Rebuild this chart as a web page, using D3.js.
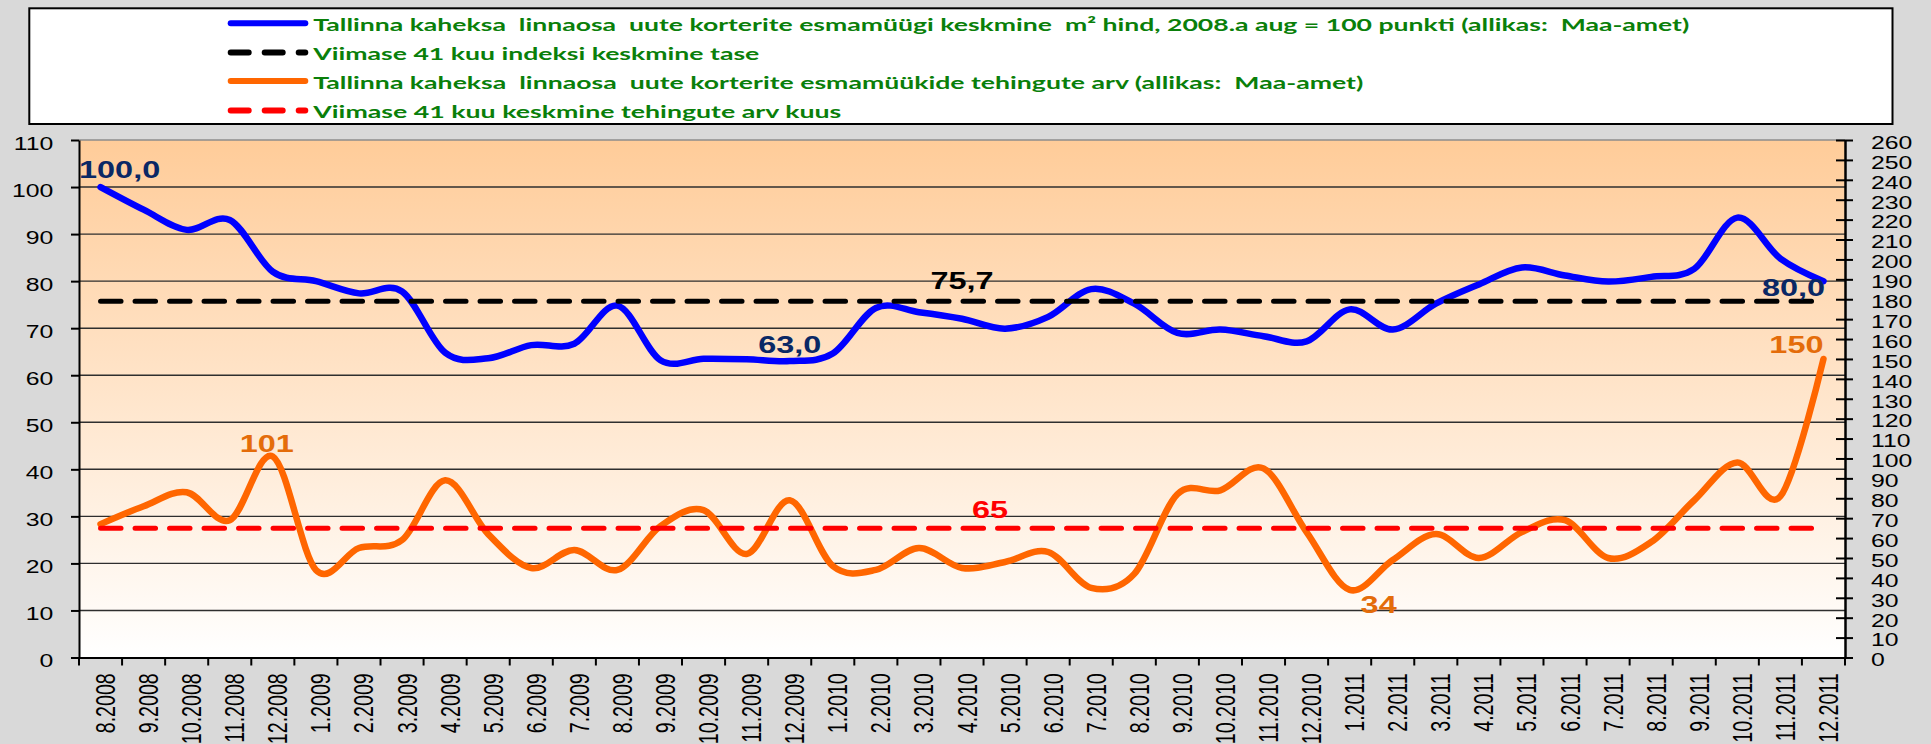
<!DOCTYPE html>
<html>
<head>
<meta charset="utf-8">
<script src="https://d3js.org/d3.v7.min.js"></script>
<style>
  body { margin: 0; background: #d9d9d9; overflow: hidden; }
</style>
</head>
<body>
<div id="chart"></div>
<script>

/* DATA ********************************************************************************/

var months = [
    "8.2008", "9.2008", "10.2008", "11.2008", "12.2008",
    "1.2009", "2.2009", "3.2009", "4.2009", "5.2009", "6.2009", "7.2009", "8.2009", "9.2009", "10.2009", "11.2009", "12.2009",
    "1.2010", "2.2010", "3.2010", "4.2010", "5.2010", "6.2010", "7.2010", "8.2010", "9.2010", "10.2010", "11.2010", "12.2010",
    "1.2011", "2.2011", "3.2011", "4.2011", "5.2011", "6.2011", "7.2011", "8.2011", "9.2011", "10.2011", "11.2011", "12.2011"
];

// m2 price index, 2008 aug = 100 (left axis)
var priceIndex = [
    100.0, 95.2, 90.9, 93.0, 82.0,
    80.0, 77.4, 77.8, 64.8, 63.6, 66.4, 66.7, 74.8, 63.2, 63.5, 63.4, 63.0,
    64.6, 74.3, 73.4, 72.0, 69.9, 72.4, 78.3, 75.2, 69.0, 69.7, 68.3, 67.2,
    74.0, 69.7, 75.2, 79.3, 82.9, 81.2, 79.9, 80.9, 82.6, 93.5, 84.8, 80.0
];

// number of deals (right axis)
var dealCount = [
    67, 76, 83, 69, 101,
    44, 55, 59, 89, 62, 45, 54, 44, 66, 74, 52, 79,
    46, 44, 55, 45, 48, 53, 35, 42, 82, 84, 95, 63,
    34, 49, 62, 50, 63, 69, 50, 58, 79, 98, 81, 150
];

var indexAverage = 75.7;
var dealAverage = 65;

var leftTicks = [0, 10, 20, 30, 40, 50, 60, 70, 80, 90, 100, 110];
var rightTicks = [0, 10, 20, 30, 40, 50, 60, 70, 80, 90, 100, 110, 120, 130, 140, 150, 160, 170, 180, 190, 200, 210, 220, 230, 240, 250, 260];

var legendNames = [
    "Tallinna kaheksa  linnaosa  uute korterite esmamüügi keskmine  m² hind, 2008.a aug = 100 punkti (allikas:  Maa-amet)",
    "Viimase 41 kuu indeksi keskmine tase",
    "Tallinna kaheksa  linnaosa  uute korterite esmamüükide tehingute arv (allikas:  Maa-amet)",
    "Viimase 41 kuu keskmine tehingute arv kuus"
];

var drawChart = function(){

    /* SETTINGS ****************************************************************************/

    const width = 1931;
    const height = 744;
    const plotLeft = 79, plotRight = 1845, plotTop = 140, plotBottom = 657.5;

    var bgColor = '#d9d9d9';
    var axisFont = '"Liberation Sans", Arial, sans-serif';
    var blue = '#0000ff', orange = '#ff6600', navy = '#0a2865', labelOrange = '#e46c0a';
    var dash = "20.5,14";

    // the original picture is stretched sideways, so text gets a horizontal scale
    function stretch(sel, sx) {
        sel.each(function(){
            var t = d3.select(this);
            var x = +t.attr("x") || 0, y = +t.attr("y") || 0;
            t.attr("x", 0).attr("y", 0)
                .attr("transform", "translate(" + x + "," + y + ") scale(" + sx + ",1)");
        });
    }

    /* SVG *********************************************************************************/

    var svg = d3.select('#chart')
        .append('svg')
        .attr("width", width)
        .attr("height", height)
        .style('background-color', bgColor)
        .style('display', 'block');

    var grad = svg.append("defs").append("linearGradient")
        .attr("id", "plotBg")
        .attr("x1", 0).attr("y1", 0).attr("x2", 0).attr("y2", 1);
    grad.append("stop").attr("offset", "0%").attr("stop-color", "#ffcc99");
    grad.append("stop").attr("offset", "100%").attr("stop-color", "#ffffff");

    // Scales
    var x = d3.scaleBand()
        .domain(months)
        .range([plotLeft, plotRight]);
    var yLeft = d3.scaleLinear()
        .domain([0, 110])
        .range([plotBottom, plotTop]);
    var yRight = d3.scaleLinear()
        .domain([0, 260])
        .range([plotBottom, plotTop]);
    var cx = function(i) { return x(months[i]) + x.bandwidth() / 2; };

    // Plot area
    svg.append("rect")
        .attr("x", plotLeft).attr("y", plotTop)
        .attr("width", plotRight - plotLeft).attr("height", plotBottom - plotTop)
        .attr("fill", "url(#plotBg)");
    svg.append("line")
        .attr("x1", plotLeft).attr("x2", plotRight)
        .attr("y1", plotTop).attr("y2", plotTop)
        .attr("stroke", "#8c8c8c").attr("stroke-width", 1.5);

    // Gridlines
    svg.append("g").selectAll("line")
        .data(leftTicks.filter(function(d){ return d > 0 && d < 110; }))
        .join("line")
        .attr("x1", plotLeft).attr("x2", plotRight)
        .attr("y1", function(d){ return yLeft(d); })
        .attr("y2", function(d){ return yLeft(d); })
        .attr("stroke", "#2e2e2e")
        .attr("stroke-width", 1.4);

    /* AXES ********************************************************************************/

    var leftAxis = svg.append("g")
        .attr("transform", "translate(" + plotLeft + ",0)")
        .call(d3.axisLeft(yLeft).tickValues(leftTicks).tickSize(8).tickSizeOuter(0).tickFormat(d3.format("d")));
    leftAxis.select(".domain").attr("stroke", "#000").attr("stroke-width", 2);
    leftAxis.selectAll(".tick line").attr("stroke", "#000").attr("stroke-width", 2);
    leftAxis.selectAll(".tick text")
        .attr("x", -25.7)
        .attr("dy", "0.5em")
        .attr("fill", "#000")
        .attr("font-family", axisFont)
        .attr("font-size", 18.5)
        .call(stretch, 1.34);

    var rightAxis = svg.append("g")
        .attr("transform", "translate(" + plotRight + ",0)")
        .call(d3.axisRight(yRight).tickValues(rightTicks).tickSize(8).tickSizeOuter(0).tickFormat(d3.format("d")));
    rightAxis.select(".domain").attr("stroke", "#000").attr("stroke-width", 2.5);
    rightAxis.selectAll(".tick line").attr("x1", -9).attr("x2", 8).attr("stroke", "#000").attr("stroke-width", 2);
    rightAxis.selectAll(".tick text")
        .attr("x", 26)
        .attr("dy", "0.45em")
        .attr("fill", "#000")
        .attr("font-family", axisFont)
        .attr("font-size", 18.5)
        .call(stretch, 1.34);

    var bottomAxis = svg.append("g")
        .attr("transform", "translate(0," + plotBottom + ")")
        .call(d3.axisBottom(x).tickSize(0).tickSizeOuter(0));
    bottomAxis.select(".domain").attr("stroke", "#000").attr("stroke-width", 2);
    bottomAxis.selectAll(".tick text")
        .attr("text-anchor", "end")
        .attr("fill", "#000")
        .attr("font-family", axisFont)
        .attr("font-size", 19.6)
        .attr("x", 0).attr("y", 0).attr("dy", 0)
        .attr("transform", "translate(14.5,15.8) scale(1.43,1) rotate(-90)");

    // tick marks sit between the months
    var bounds = months.map(function(m){ return x(m); }).concat([x.range()[1]]);
    bottomAxis.append("g").selectAll("line")
        .data(bounds)
        .join("line")
        .attr("x1", function(d){ return d; }).attr("x2", function(d){ return d; })
        .attr("y1", 0).attr("y2", 8)
        .attr("stroke", "#000").attr("stroke-width", 2);

    /* SERIES ******************************************************************************/

    var curve = d3.curveCardinal.tension(0);

    var priceLine = d3.line()
        .x(function(d, i){ return cx(i); })
        .y(function(d){ return yLeft(d); })
        .curve(curve);
    var dealLine = d3.line()
        .x(function(d, i){ return cx(i); })
        .y(function(d){ return yRight(d); })
        .curve(curve);

    svg.append("path")
        .datum(priceIndex)
        .attr("d", priceLine)
        .attr("fill", "none")
        .attr("stroke", blue)
        .attr("stroke-width", 6.5)
        .attr("stroke-linejoin", "round")
        .attr("stroke-linecap", "round");

    svg.append("path")
        .datum(dealCount)
        .attr("d", dealLine)
        .attr("fill", "none")
        .attr("stroke", orange)
        .attr("stroke-width", 6.5)
        .attr("stroke-linejoin", "round")
        .attr("stroke-linecap", "round");

    // average lines run from first to last month
    svg.append("line")
        .attr("x1", cx(0)).attr("x2", cx(months.length - 1))
        .attr("y1", yLeft(indexAverage)).attr("y2", yLeft(indexAverage))
        .attr("stroke", "#000")
        .attr("stroke-width", 5)
        .attr("stroke-linecap", "round")
        .attr("stroke-dasharray", dash);

    svg.append("line")
        .attr("x1", cx(0)).attr("x2", cx(months.length - 1))
        .attr("y1", yRight(dealAverage)).attr("y2", yRight(dealAverage))
        .attr("stroke", "#ff0000")
        .attr("stroke-width", 5)
        .attr("stroke-linecap", "round")
        .attr("stroke-dasharray", dash);

    /* DATA LABELS *************************************************************************/

    var fmt1 = function(v){ return d3.format(".1f")(v).replace(".", ","); };
    var fmt0 = d3.format("d");

    var labels = [
        {text: fmt1(priceIndex[0]), px: cx(0), py: yLeft(priceIndex[0]), anchor: "start", dx: -21.5, dy: -9, color: navy},
        {text: fmt1(priceIndex[16]), px: cx(16), py: yLeft(priceIndex[16]), anchor: "middle", dx: 0, dy: -8, color: navy},
        {text: fmt1(priceIndex[40]), px: cx(40), py: yLeft(priceIndex[40]), anchor: "end", dx: 1.6, dy: 15, color: navy},
        {text: fmt1(indexAverage), px: cx(20), py: yLeft(indexAverage), anchor: "middle", dx: 0, dy: -12.7, color: "#000"},
        {text: fmt0(dealCount[4]), px: cx(4), py: yRight(dealCount[4]), anchor: "middle", dx: -6, dy: -4.5, color: labelOrange},
        {text: fmt0(dealCount[29]), px: cx(29), py: yRight(dealCount[29]), anchor: "middle", dx: 29, dy: 23.4, color: labelOrange},
        {text: fmt0(dealCount[40]), px: cx(40), py: yRight(dealCount[40]), anchor: "end", dx: 0, dy: -6, color: labelOrange},
        {text: fmt0(dealAverage), px: cx(20), py: yRight(dealAverage), anchor: "middle", dx: 28, dy: -10, color: "#ff0000"}
    ];

    svg.append("g").selectAll("text")
        .data(labels)
        .join("text")
        .text(function(d){ return d.text; })
        .attr("x", function(d){ return d.px + d.dx; })
        .attr("y", function(d){ return d.py + d.dy; })
        .attr("text-anchor", function(d){ return d.anchor; })
        .attr("fill", function(d){ return d.color; })
        .attr("font-family", axisFont)
        .attr("font-weight", "bold")
        .attr("font-size", 23)
        .call(stretch, 1.41);

    /* LEGEND ******************************************************************************/

    var legend = svg.append("g");
    legend.append("rect")
        .attr("x", 29.3).attr("y", 8.3)
        .attr("width", 1863.2).attr("height", 115.7)
        .attr("fill", "#fff")
        .attr("stroke", "#000")
        .attr("stroke-width", 2);

    var legendStyle = [
        {color: blue, dashed: false, textWidth: 1376},
        {color: "#000", dashed: true, textWidth: 446},
        {color: orange, dashed: false, textWidth: 1050},
        {color: "#ff0000", dashed: true, textWidth: 528}
    ];
    var rowY = [23.3, 52.5, 80.9, 110.5];

    var rows = legend.selectAll(".legend-row")
        .data(legendNames)
        .join("g")
        .attr("class", "legend-row")
        .attr("transform", function(d, i){ return "translate(0," + rowY[i] + ")"; });

    rows.append("line")
        .attr("x1", 230.7)
        .attr("x2", 305.3)
        .attr("stroke", function(d, i){ return legendStyle[i].color; })
        .attr("stroke-width", 6)
        .attr("stroke-linecap", "round")
        .attr("stroke-dasharray", function(d, i){ return legendStyle[i].dashed ? "18,16" : null; });

    rows.append("text")
        .text(function(d){ return d; })
        .attr("x", 313.3)
        .attr("y", 7.6)
        .attr("fill", "#0a7f0a")
        .attr("font-family", "Lato, 'Open Sans', sans-serif")
        .attr("font-weight", "bold")
        .attr("font-size", 17.5)
        .style("white-space", "pre")
        .attr("textLength", function(d, i){ return legendStyle[i].textWidth; })
        .attr("lengthAdjust", "spacingAndGlyphs");
}

window.addEventListener("load", drawChart)
</script>
</body>
</html>
